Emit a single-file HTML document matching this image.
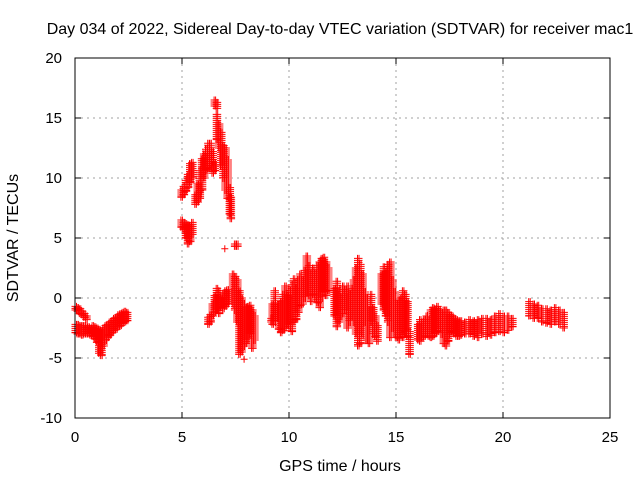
<!DOCTYPE html>
<html><head><meta charset="utf-8"><style>
body{margin:0;background:#fff}
svg{display:block;font-family:"Liberation Sans",sans-serif}
</style></head><body>
<svg id="chart" width="640" height="480" viewBox="0 0 640 480">
<rect width="640" height="480" fill="#fff"/>
<text x="340" y="34" font-size="16" text-anchor="middle">Day 034 of 2022, Sidereal Day-to-day VTEC variation (SDTVAR) for receiver mac1</text>
<g id="grid"></g>
<g id="marks"></g>
<g id="axes"></g>
<text x="340" y="471" font-size="16" text-anchor="middle">GPS time / hours</text>
<text x="18" y="238" font-size="16" text-anchor="middle" transform="rotate(-90 18 238)">SDTVAR / TECUs</text>
</svg>
<script>
const xTicks=[0,5,10,15,20,25];
const yTicks=[-10,-5,0,5,10,15,20];
// Per time column: hour, min SDTVAR, max SDTVAR
const obsHours=[0.0,0.1,0.2,0.3,0.4,0.5,
0.0,0.1,0.2,0.3,0.4,0.5,0.6,0.7,0.8,0.9,1.0,1.1,1.2,1.3,1.4,1.5,1.6,1.7,1.8,1.9,2.0,2.1,2.2,2.3,2.4,
4.95,5.05,5.15,5.25,5.35,5.45,
4.95,5.05,5.15,5.25,5.35,5.45,
5.6,5.7,5.8,5.9,6.0,6.1,6.2,6.3,6.4,6.5,
6.5,6.6,6.6,6.7,6.8,6.9,7.0,7.1,7.2,7.25,
7.0,7.45,7.55,
6.2,6.3,6.4,6.5,6.6,6.7,6.8,6.9,7.0,7.1,
7.35,7.45,7.55,7.65,7.75,7.85,7.95,8.05,8.15,8.25,8.35,7.9,
9.15,9.2,9.3,9.5,9.6,9.7,9.8,9.9,10.0,10.1,10.2,10.3,10.4,10.5,10.6,10.7,10.8,10.9,11.0,11.1,11.2,11.3,11.4,11.5,11.6,11.7,11.8,
12.1,12.2,12.3,12.4,12.5,12.6,12.7,12.8,12.9,13.0,13.1,13.2,13.3,13.4,13.5,13.6,13.7,13.8,13.9,14.0,14.1,
14.3,14.4,14.5,14.6,14.7,14.8,14.9,15.0,15.1,15.2,15.3,15.4,15.5,15.6,
16.0,16.1,16.2,16.3,16.4,16.5,16.6,16.7,16.8,16.9,17.0,17.1,17.2,17.3,17.4,17.5,17.6,17.7,17.8,17.9,18.0,18.2,18.4,18.6,18.8,19.0,19.2,19.4,19.6,19.8,20.0,20.2,20.4,
21.2,21.4,21.6,21.8,22.0,22.2,22.4,22.6,22.8];
const obsMin=[-1.0,-1.1,-1.3,-1.4,-1.6,-1.8,
-2.9,-3.0,-3.0,-3.1,-3.0,-3.0,-3.0,-3.1,-3.2,-3.4,-3.7,-4.6,-4.8,-4.0,-3.5,-3.3,-3.1,-2.9,-2.7,-2.6,-2.4,-2.3,-2.1,-2.0,-1.9,
8.4,8.6,8.9,9.2,9.6,10.0,
5.9,5.7,5.0,4.5,4.7,5.3,
7.8,8.0,8.3,9.0,10.0,10.6,10.8,11.0,10.4,10.6,
16.0,15.8,13.2,12.5,11.0,10.0,9.0,8.3,7.0,6.6,
4.1,4.3,4.3,
-2.2,-2.0,-1.5,-1.2,-1.0,-1.3,-0.8,-0.9,-0.7,-0.5,
-0.5,-1.0,-2.0,-4.7,-4.5,-4.0,-3.8,-3.5,-3.0,-4.2,-3.5,-5.1,
-2.0,-2.2,-2.0,-2.6,-2.9,-2.7,-2.5,-2.2,-2.4,-2.8,-2.0,-1.8,-1.2,-0.6,-0.5,0.0,0.5,0.2,-0.3,0.3,0.0,-0.4,-0.8,0.0,0.5,0.2,0.6,
-1.5,-2.4,-2.0,-1.5,-1.3,-1.0,-2.5,-2.0,-1.5,-2.0,-3.0,-4.0,-3.8,-3.0,-2.0,-3.5,-3.8,-2.0,-3.0,-3.2,-3.6,
-0.5,-1.0,-1.5,-2.0,-3.3,-2.5,-3.0,-3.3,-3.5,-3.0,-3.3,-2.8,-3.2,-4.7,
-3.5,-3.6,-3.3,-3.2,-3.0,-3.2,-3.3,-3.2,-3.0,-2.8,-2.5,-3.0,-3.8,-4.0,-3.6,-3.0,-2.8,-3.0,-3.2,-3.2,-3.1,-3.0,-3.0,-3.2,-3.3,-3.0,-3.2,-3.1,-2.9,-2.8,-2.9,-2.7,-2.4,
-1.5,-1.7,-1.7,-2.0,-2.1,-2.2,-2.0,-2.2,-2.5];
const obsMax=[-0.7,-0.8,-0.9,-1.1,-1.3,-1.5,
-2.2,-2.2,-2.3,-2.3,-2.3,-2.4,-2.4,-2.5,-2.3,-2.4,-2.5,-2.6,-2.7,-2.5,-2.3,-2.2,-2.0,-1.9,-1.7,-1.6,-1.4,-1.3,-1.2,-1.1,-1.2,
9.0,9.3,9.8,10.3,11.2,11.3,
6.5,6.3,6.2,6.1,6.0,6.3,
8.6,9.5,10.6,11.6,12.0,12.4,12.9,12.9,12.2,11.3,
16.5,16.3,15.3,14.5,13.8,12.7,12.5,11.5,9.2,8.4,
4.1,4.5,4.5,
-1.6,-1.4,-0.5,0.2,0.8,0.6,0.0,0.4,0.6,0.7,
2.0,1.8,1.5,0.6,0.0,-0.5,-0.8,-0.7,-0.6,-1.0,-1.5,-5.1,
-1.7,-0.5,0.6,-0.5,-0.3,0.3,1.0,0.2,0.6,1.1,1.6,0.8,1.5,2.0,1.5,2.3,3.5,2.7,2.0,2.5,2.0,2.7,3.0,3.3,3.4,3.0,2.5,
0.8,1.4,0.5,0.0,1.0,0.7,1.0,0.3,0.8,1.5,2.5,3.3,2.8,2.0,0.5,0.0,-1.0,0.3,-0.8,-1.5,-2.3,
2.0,2.6,2.2,2.8,3.0,1.5,0.5,-0.5,-0.2,0.0,0.6,0.3,-0.3,-2.8,
-2.2,-1.8,-2.0,-1.8,-1.5,-1.8,-1.0,-0.8,-0.9,-0.7,-1.0,-1.2,-1.0,-1.0,-1.2,-1.4,-1.5,-1.7,-1.8,-1.9,-1.9,-2.0,-1.8,-1.9,-1.8,-1.7,-1.7,-1.8,-1.5,-1.3,-1.5,-1.5,-1.7,
-0.3,-0.5,-0.6,-0.9,-0.9,-1.0,-0.8,-1.0,-1.2];

const NS='http://www.w3.org/2000/svg';
const L=75,R=610,T=58,B=418;
function xs(h){return L+(h-0)/(25-0)*(R-L);}
function ys(v){return B-(v-(-10))/(20-(-10))*(B-T);}
const grid=document.getElementById('grid'),axes=document.getElementById('axes'),marks=document.getElementById('marks');
function mk(tag,attrs,parent){const e=document.createElementNS(NS,tag);for(const k in attrs)e.setAttribute(k,attrs[k]);parent.appendChild(e);return e;}
xTicks.forEach(t=>{
  const x=xs(t);
  if(t>0&&t<25){const g=mk('line',{x1:x,x2:x,y1:T,y2:B,stroke:'#a0a0a0','stroke-dasharray':'2,4','stroke-width':1},grid);
  
  }
  const tk=mk('path',{d:`M${x},${B}v-6M${x},${T}v6`,stroke:'#000','stroke-width':1},axes);
  
  
  const lb=mk('text',{x:x,y:B+24,'font-size':15,'text-anchor':'middle'},axes);lb.textContent=t;
  
  
});
yTicks.forEach(t=>{
  const y=ys(t);
  if(t>-10&&t<20){const g=mk('line',{x1:L,x2:R,y1:y,y2:y,stroke:'#a0a0a0','stroke-dasharray':'2,4','stroke-width':1},grid);
  
  }
  const tk=mk('path',{d:`M${L},${y}h6M${R},${y}h-6`,stroke:'#000','stroke-width':1},axes);
  
  
  const lb=mk('text',{x:L-13,y:y+5,'font-size':15,'text-anchor':'end'},axes);lb.textContent=t;
  
  
});
const frame=mk('rect',{x:L,y:T,width:R-L,height:B-T,fill:'none',stroke:'#000','stroke-width':1},axes);


let d='';
function plus(x,y){d+=`M${(x-3.5).toFixed(1)},${y.toFixed(1)}h7M${x.toFixed(1)},${(y-3.5).toFixed(1)}v7`;}
for(let i=0;i<obsHours.length;i++){
  const x=xs(obsHours[i]);
  const y1=ys(obsMax[i]),y2=ys(obsMin[i]);
  const single=Math.abs(y2-y1)<0.5;
  const offs=single?[0]:[0,1.5];
  offs.forEach(o=>{
    for(let y=y1;y<=y2+0.01;y+=2){plus(x+o,y);}
    plus(x+o,y2);
  });
}
const p=mk('path',{d:d,stroke:'#ff0000','stroke-width':1,fill:'none'},marks);


</script>
</body></html>
